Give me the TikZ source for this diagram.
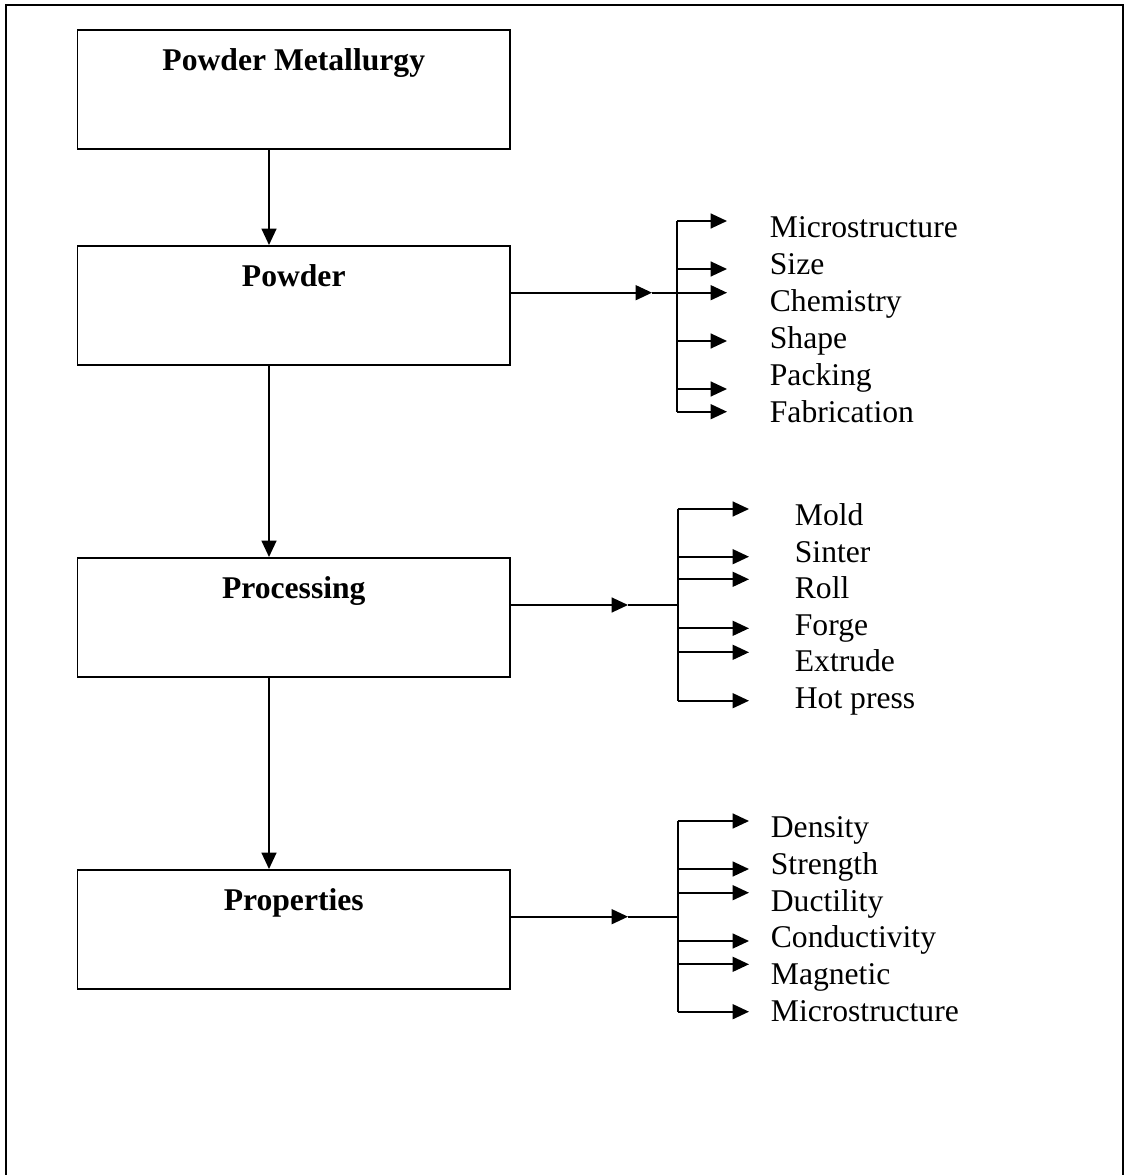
\documentclass[tikz,border=0pt]{standalone}
\usepackage{fontspec}
\setmainfont{Liberation Serif}
\usetikzlibrary{arrows.meta}

\tikzset{
	stagebox/.style={draw, inner sep=0pt, anchor=north, minimum width=8.65cm,
		text height=0.82cm, text depth=1.56cm,
		font=\fontsize{18}{22}\selectfont\bfseries},
	item/.style={inner sep=0pt, anchor=base west, font=\fontsize{18}{22}\selectfont},
	arr/.style={-{Triangle[length=0.33cm,width=0.3cm]}},
}

\begin{document}
\begin{tikzpicture}[x=0.02cm, y=-0.02cm, line width=1pt]
		\useasboundingbox (0,0) rectangle (1125,1175);

		% Draw the outer frame
		\draw (6,1175) -- (6,5) -- (1123,5) -- (1123,1175);

		% Stages
		\node[stagebox] (pm) at (293.75,29) {Powder Metallurgy};
		\node[stagebox] (powder) at (293.75,245) {Powder};
		\node[stagebox] (proc) at (293.75,557) {Processing};
		\node[stagebox] (prop) at (293.75,869) {Properties};

		% Main chain
		\coordinate (spine) at (269,0);
		\draw[arr] (pm.south -| spine) -- (powder.north -| spine);
		\draw[arr] (powder.south -| spine) -- (proc.north -| spine);
		\draw[arr] (proc.south -| spine) -- (prop.north -| spine);

		% Powder branches
		\coordinate (pwbus) at (677,0);
		\coordinate (pwmid) at (652,292.7);
		\draw[arr] (powder.east |- pwmid) -- (pwmid);
		\draw (pwmid) -- (pwbus |- pwmid);
		\foreach \ay [count=\i] in {221,269,292.7,341,389,411.7}
			\coordinate (pwt\i) at (727,\ay);
		\draw (pwbus |- pwt1) -- (pwbus |- pwt6);
		\foreach \i in {1,...,6}
			\draw[arr] (pwbus |- pwt\i) -- (pwt\i);
		\foreach \txt [count=\i] in {Microstructure,Size,Chemistry,Shape,Packing,Fabrication}
			\node[item] (pwl\i) at (769,{238+36.8*(\i-1)}) {\txt};

		% Processing branches
		\coordinate (prbus) at (677.7,0);
		\coordinate (prmid) at (628,605);
		\draw[arr] (proc.east |- prmid) -- (prmid);
		\draw (prmid) -- (prbus |- prmid);
		\foreach \ay [count=\i] in {509,556.7,579.3,628.3,652.3,700.7}
			\coordinate (prt\i) at (749,\ay);
		\draw (prbus |- prt1) -- (prbus |- prt6);
		\foreach \i in {1,...,6}
			\draw[arr] (prbus |- prt\i) -- (prt\i);
		\foreach \txt [count=\i] in {Mold,Sinter,Roll,Forge,Extrude,Hot press}
			\node[item] (prl\i) at (794,{525.5+36.6*(\i-1)}) {\txt};

		% Properties branches
		\coordinate (ppbus) at (677.7,0);
		\coordinate (ppmid) at (628,916.7);
		\draw[arr] (prop.east |- ppmid) -- (ppmid);
		\draw (ppmid) -- (ppbus |- ppmid);
		\foreach \ay [count=\i] in {821,869,892.7,941,964.3,1011.7}
			\coordinate (ppt\i) at (749,\ay);
		\draw (ppbus |- ppt1) -- (ppbus |- ppt6);
		\foreach \i in {1,...,6}
			\draw[arr] (ppbus |- ppt\i) -- (ppt\i);
		\foreach \txt [count=\i] in {Density,Strength,Ductility,Conductivity,Magnetic,Microstructure}
			\node[item] (ppl\i) at (770,{837.5+36.8*(\i-1)}) {\txt};
	\end{tikzpicture}
\end{document}
